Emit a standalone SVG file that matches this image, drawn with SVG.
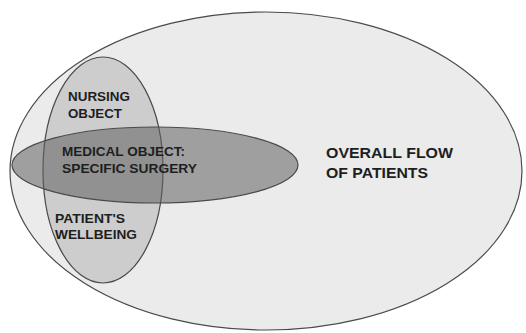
<svg xmlns="http://www.w3.org/2000/svg" width="526" height="333" viewBox="0 0 526 333">
<style>
.sh{stroke:#4a4a4a;stroke-width:1.2}
.t{font-family:"Liberation Sans",Arial,sans-serif;font-weight:bold;fill:#1e1e1e}
.s{font-size:12.5px}
.l{font-size:15px}
</style>
<rect width="526" height="333" fill="#ffffff"/>
<g id="overall">
<ellipse class="sh" cx="266" cy="171" rx="256" ry="159" fill="#ebebeb"/>
<text class="t l" x="326" y="158" textLength="127" lengthAdjust="spacingAndGlyphs">OVERALL FLOW</text>
<text class="t l" x="326" y="178" textLength="102" lengthAdjust="spacingAndGlyphs">OF PATIENTS</text>
</g>
<g id="nursing">
<ellipse class="sh" cx="103" cy="170" rx="60" ry="113" fill="#b0b0b0" fill-opacity="0.5"/>
<text class="t s" x="68" y="101" textLength="62" lengthAdjust="spacingAndGlyphs">NURSING</text>
<text class="t s" x="68" y="118" textLength="54" lengthAdjust="spacingAndGlyphs">OBJECT</text>
<text class="t s" x="55" y="223" textLength="70" lengthAdjust="spacingAndGlyphs">PATIENT'S</text>
<text class="t s" x="55" y="239" textLength="82" lengthAdjust="spacingAndGlyphs">WELLBEING</text>
</g>
<g id="medical">
<ellipse class="sh" cx="155" cy="165" rx="143" ry="38" fill="#606060" fill-opacity="0.55"/>
<text class="t s" x="62" y="156" textLength="123" lengthAdjust="spacingAndGlyphs">MEDICAL OBJECT:</text>
<text class="t s" x="62" y="173" textLength="135" lengthAdjust="spacingAndGlyphs">SPECIFIC SURGERY</text>
</g>
<g id="connectors"/>
</svg>
